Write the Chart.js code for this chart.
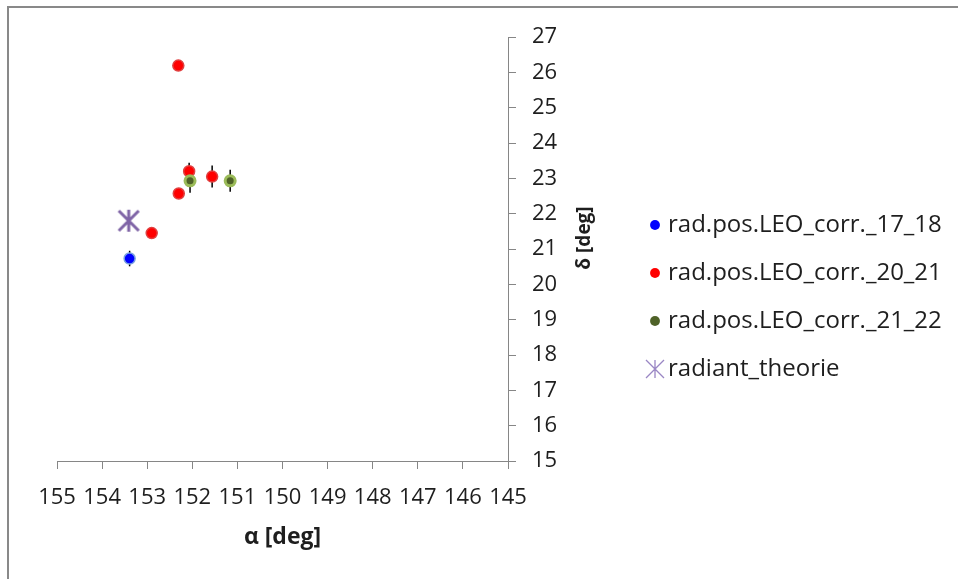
<!DOCTYPE html>
<html>
<head>
<meta charset="utf-8">
<script src="https://cdn.jsdelivr.net/npm/chart.js@4"></script>
<style>
  html, body { margin: 0; padding: 0; background: #fff; }
  #wrap { position: relative; width: 958px; height: 579px; overflow: hidden; }
  #frame { position: absolute; left: 7px; top: 6px; right: -10px; bottom: -10px;
           border-top: 2px solid #898989; border-left: 2px solid #898989; }
  #chart1 { position: absolute; left: 0; top: 0; }
</style>
</head>
<body>
<div id="wrap"><div id="frame"></div><canvas id="chart1" width="958" height="579"></canvas></div>
<script>
"use strict"

// series names (legend order)
const seriesNames = ['rad.pos.LEO_corr._17_18', 'rad.pos.LEO_corr._20_21', 'rad.pos.LEO_corr._21_22', 'radiant_theorie']

// right ascension / declination, errors = half length of the vertical bars
const alpha1718 = [153.39]
const delta1718 = [20.73]
const err1718 = [0.22]

const alpha2021 = [152.31, 152.07, 151.56, 152.30, 152.90]
const delta2021 = [26.19, 23.20, 23.05, 22.57, 21.45]
const err2021 = [0.08, 0.24, 0.31, 0.1, 0.1]

const alpha2122 = [152.05, 151.16]
const delta2122 = [22.93, 22.93]
const err2122 = [0.34, 0.31]

const alphaTheory = [153.41]
const deltaTheory = [21.80]

// axes
const xMin = 145, xMax = 155
const yMin = 15, yMax = 27
const xTitle = 'α [deg]'
const yTitle = 'δ [deg]'

const textColor = '#1e1e1e'
const axisColor = '#868686'
const legendLeft = 630

function toPoints(xs, ys){
    let pts = []
    for (let i = 0; i < xs.length; i++) {
        pts.push({x: xs[i], y: ys[i]})
    }
    return pts
}

// asterisk marker like the excel one (vertical + two diagonals)
function makeStar(size, arm, diag, width, color){
    const c = document.createElement('canvas')
    c.width = size
    c.height = size
    const g = c.getContext('2d')
    const m = size / 2
    g.strokeStyle = color
    g.lineWidth = width
    g.beginPath()
    g.moveTo(m, m - arm); g.lineTo(m, m + arm)
    g.moveTo(m - diag, m - diag); g.lineTo(m + diag, m + diag)
    g.moveTo(m - diag, m + diag); g.lineTo(m + diag, m - diag)
    g.stroke()
    return c
}

const starBig = makeStar(26, 11, 10, 3, '#7f64a6')
const starSmall = makeStar(20, 9, 9, 1.3, '#9a86c4')

// vertical error bars, drawn under the markers
const errorBarPlugin = {
    id: 'errorBars',
    beforeDatasetsDraw(chart){
        const ctx = chart.ctx
        const yScale = chart.scales.y
        ctx.save()
        ctx.strokeStyle = '#000'
        ctx.lineWidth = 1.5
        chart.data.datasets.forEach((ds, i) => {
            if (!ds.errorBars) return
            chart.getDatasetMeta(i).data.forEach((pt, j) => {
                const v = ds.data[j].y
                const e = ds.errorBars[j]
                ctx.beginPath()
                ctx.moveTo(pt.x, yScale.getPixelForValue(v - e))
                ctx.lineTo(pt.x, yScale.getPixelForValue(v + e))
                ctx.stroke()
            })
        })
        ctx.restore()
    }
}

// y title reads bottom-to-top on the right side
const yTitlePlugin = {
    id: 'yTitle',
    afterDraw(chart){
        const {ctx, chartArea, scales} = chart
        ctx.save()
        ctx.translate(scales.y.left + 77, (chartArea.top + chartArea.bottom) / 2 - 11)
        ctx.rotate(-Math.PI / 2)
        ctx.font = 'bold 19px "Open Sans"'
        ctx.fillStyle = textColor
        ctx.textAlign = 'center'
        ctx.textBaseline = 'middle'
        ctx.fillText(yTitle, 0, 0)
        ctx.restore()
    }
}

// pin the legend block to a fixed left edge, keep it running to the canvas edge
const legendPlacePlugin = {
    id: 'legendPlace',
    afterLayout(chart){
        const lg = chart.legend
        if (!lg) return
        lg.left = legendLeft
        lg.right = chart.width
        lg.width = lg.right - lg.left
    }
}

Chart.defaults.font.family = '"Open Sans"'
Chart.defaults.color = textColor

const ctx = document.getElementById('chart1')

// reversed so that later series are painted on top, legend is reversed back
let myChart = new Chart(ctx, {
    type: 'scatter',
    data: {
        datasets: [
            {
                label: seriesNames[3],
                data: toPoints(alphaTheory, deltaTheory),
                pointStyle: starBig,
                pointRadius: 11,
                legendStyle: starSmall,
                legendColor: '#9a86c4'
            },
            {
                label: seriesNames[2],
                data: toPoints(alpha2122, delta2122),
                errorBars: err2122,
                pointStyle: 'circle',
                pointRadius: 5,
                borderWidth: 3,
                backgroundColor: '#4f6228',
                borderColor: '#9bbb59',
                legendStyle: 'circle',
                legendColor: '#4f6228'
            },
            {
                label: seriesNames[1],
                data: toPoints(alpha2021, delta2021),
                errorBars: err2021,
                pointStyle: 'circle',
                pointRadius: 5.5,
                borderWidth: 1.5,
                backgroundColor: '#ff0000',
                borderColor: '#e04040',
                legendStyle: 'circle',
                legendColor: '#ff0000'
            },
            {
                label: seriesNames[0],
                data: toPoints(alpha1718, delta1718),
                errorBars: err1718,
                pointStyle: 'circle',
                pointRadius: 5.5,
                borderWidth: 1.5,
                backgroundColor: '#0000ff',
                borderColor: '#78a0e0',
                legendStyle: 'circle',
                legendColor: '#0000ff'
            }
        ]
    },
    options: {
        responsive: false,
        animation: false,
        events: [],
        layout: {
            padding: {left: 57, top: 37, right: 0, bottom: 22}
        },
        plugins: {
            tooltip: {enabled: false},
            legend: {
                position: 'right',
                reverse: true,
                labels: {
                    usePointStyle: true,
                    boxWidth: 2,
                    boxHeight: 7,
                    padding: 24,
                    color: textColor,
                    font: {size: 24},
                    generateLabels(chart){
                        const items = Chart.defaults.plugins.legend.labels.generateLabels(chart)
                        items.forEach(it => {
                            const ds = chart.data.datasets[it.datasetIndex]
                            it.pointStyle = ds.legendStyle
                            it.fillStyle = ds.legendColor
                            it.strokeStyle = ds.legendColor
                            it.lineWidth = 0
                        })
                        return items
                    }
                }
            }
        },
        scales: {
            x: {
                type: 'linear',
                position: 'bottom',
                min: xMin,
                max: xMax,
                reverse: true,
                ticks: {stepSize: 1, autoSkip: false, maxRotation: 0, padding: 16, font: {size: 22}},
                grid: {drawOnChartArea: false, tickLength: 8, color: axisColor},
                border: {color: axisColor, width: 1},
                title: {display: true, text: xTitle, font: {size: 23, weight: 'bold'}, padding: {top: 0, bottom: 6}},
                afterFit(scale){ scale.height = 96 }
            },
            y: {
                type: 'linear',
                position: 'right',
                min: yMin,
                max: yMax,
                ticks: {stepSize: 1, padding: 16, font: {size: 22}},
                grid: {drawOnChartArea: false, tickLength: 8, color: axisColor},
                border: {color: axisColor, width: 1},
                afterFit(scale){
                    const lw = scale.chart.legend ? scale.chart.legend.width : 330
                    scale.width = 958 - lw - 508
                }
            }
        }
    },
    plugins: [errorBarPlugin, yTitlePlugin, legendPlacePlugin]
})
</script>
</body>
</html>
